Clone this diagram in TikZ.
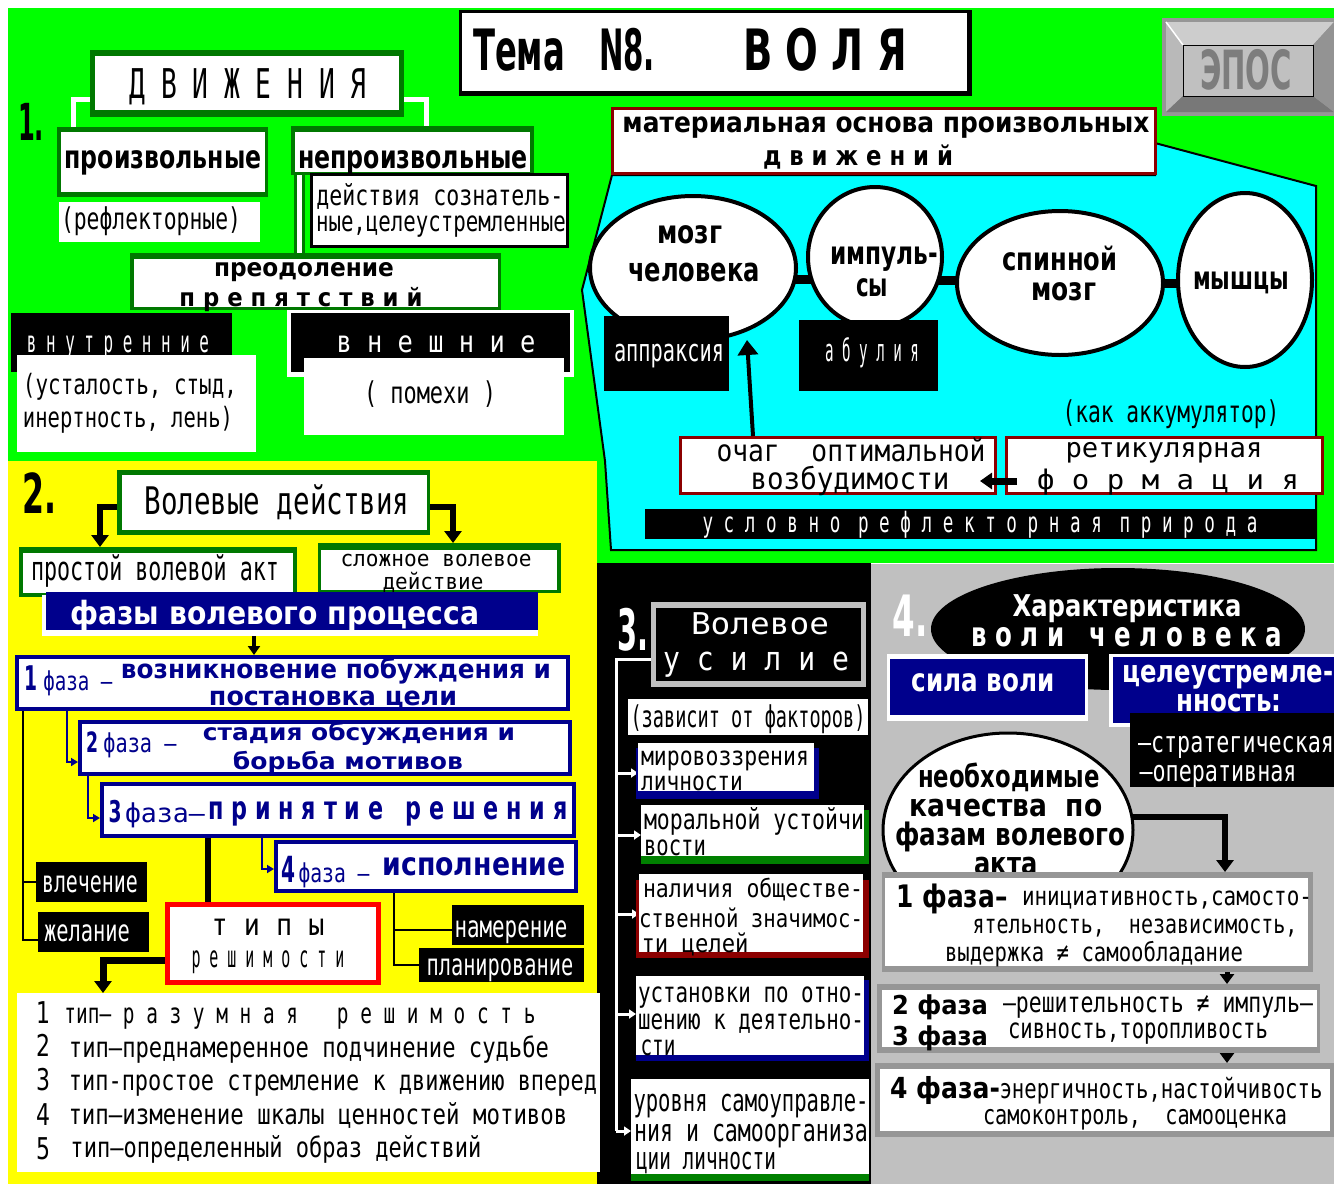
\documentclass[tikz,border=0pt]{standalone}
\usepackage{fontspec}
\setmainfont{DejaVu Sans}
\setmonofont{DejaVu Sans Mono}
\usetikzlibrary{shapes.geometric,arrows.meta,calc}
\pgfdeclarelayer{bg}\pgfdeclarelayer{conn}\pgfsetlayers{bg,conn,main}
\definecolor{cGreen}{RGB}{0,255,0}
\definecolor{cYellow}{RGB}{255,255,0}
\definecolor{cCyan}{RGB}{0,255,255}
\definecolor{cNavy}{RGB}{0,0,140}
\definecolor{cDkGreen}{RGB}{0,120,0}
\definecolor{cShGreen}{RGB}{0,128,0}
\definecolor{cDkRed}{RGB}{140,0,0}
\definecolor{cGray}{RGB}{192,192,192}
\definecolor{cFrame}{RGB}{150,150,150}
\definecolor{cRed}{RGB}{255,0,0}
\definecolor{cBtnA}{RGB}{205,205,205}
\definecolor{cBtnB}{RGB}{120,120,120}
\definecolor{cBtnT}{RGB}{125,125,125}
\newcommand\fitR[3]{\resizebox{#2pt}{\height}{\fontsize{#1}{#1}\selectfont #3}}
\newcommand\fitB[3]{\fitR{#1}{#2}{\bfseries #3}}
\newcommand\fitM[3]{\fitR{#1}{#2}{\ttfamily #3}}
\newcommand\rb[6]{\node[rbox,#2,minimum width={(#5)-(#3)},minimum height={(#6)-(#4)}] (#1) at ({((#3)+(#5))/2},{((#4)+(#6))/2}) {};}
\begin{document}
\begin{tikzpicture}[x=1pt,y=-1pt,
  rbox/.style={rectangle,inner sep=0pt,outer sep=0pt,draw=none},
  txt/.style={anchor=base,inner sep=0pt,outer sep=0pt},
  ell/.style={ellipse,draw=black,line width=4pt,fill=white,inner sep=0pt,outer sep=0pt},
  wline/.style={white,line width=5pt},
  thickarr/.style={black,line width=6pt,-{Triangle[width=17pt,length=12pt]}},
  medarr/.style={black,line width=5pt,-{Triangle[width=14pt,length=10pt]}},
  narr/.style={cNavy,line width=2pt,-{Triangle[width=8pt,length=7pt]}},
  bline/.style={black,line width=2pt},
  warr/.style={white,line width=3pt,-{Triangle[width=9pt,length=7pt]}},
  wl/.style={white,line width=3pt}]
\useasboundingbox (0,0) rectangle (1334,1184);
\begin{pgfonlayer}{bg}
\fill[white] (0,0) rectangle (1334,1184);
\fill[cGreen] (8,8) rectangle (1334,563);
\fill[cYellow] (8,461) rectangle (597,1184);
\fill[black] (597,563) rectangle (871,1184);
\fill[cGray] (871,564) rectangle (1334,1184);
\filldraw[fill=cCyan,draw=black,line width=2pt] (612,175) -- (582,290) -- (605,461) -- (611,550) -- (1316,550) -- (1316,186) -- (1155,143) -- (1155,175) -- cycle;
\end{pgfonlayer}

% ---------------- section 1 -----------------
\node[txt] (n1) at (31,140) {\fitB{51}{26}{1.}};
\rb{dvo}{fill=cDkGreen}{90}{50}{404}{117}
\rb{dv}{fill=white}{95}{56}{399}{110}
\node[txt] (tdv) at (248,98) {\fitM{41}{237}{Д В И Ж Е Н И Я}};
\rb{pro}{fill=cDkGreen}{57}{127}{268}{197}
\rb{pr}{fill=white}{61}{132}{265}{192}
\node[txt] (tpr) at (163,168) {\fitB{32}{197}{произвольные}};
\rb{refl}{fill=white}{59}{202}{260}{242}
\node[txt] (trefl) at (151,229) {\fitM{30}{180}{(рефлекторные)}};
\rb{npo}{fill=cDkGreen}{291}{126}{534}{175}
\rb{np}{fill=white}{295}{132}{530}{172}
\node[txt] (tnp) at (413,168) {\fitB{32}{230}{непроизвольные}};
\rb{deo}{fill=black}{310}{173}{569}{248}
\rb{de}{fill=white}{313}{176}{566}{245}
\node[txt] (tde1) at (440,205) {\fitM{28}{247}{действия сознатель-}};
\node[txt] (tde2) at (441,231) {\fitM{28}{250}{ные,целеустремленные}};
\rb{preo}{fill=cDkGreen}{130}{253}{501}{310}
\rb{pre}{fill=white}{134}{259}{498}{307}
\node[txt] (tpre1) at (304,276) {\fitB{25}{180}{преодоление}};
\node[txt] (tpre2) at (301,306) {\fitB{25}{243}{п р е п я т с т в и й}};
\rb{vn}{fill=black}{11}{313}{232}{372}
\node[txt,text=white] (tvn) at (118,352) {\fitM{30}{182}{в н у т р е н н и е}};
\rb{vnw}{fill=white}{17}{355}{256}{452}
\node[txt] (tvn1) at (130,394) {\fitM{28}{214}{(усталость, стыд,}};
\node[txt] (tvn2) at (128,427) {\fitM{28}{210}{инертность, лень)}};
\rb{vsf}{fill=white}{287}{310}{574}{377}
\rb{vs}{fill=black}{291}{313}{570}{372}
\node[txt,text=white] (tvs) at (436,352) {\fitM{30}{199}{в н е ш н и е}};
\rb{vsw}{fill=white}{304}{358}{564}{435}
\node[txt] (tvsw) at (430,403) {\fitM{30}{132}{( помехи )}};

\begin{pgfonlayer}{conn}
\coordinate (c1) at (73,99); \coordinate (c2) at (426,99); \coordinate (c3) at (299,0);
\draw[wline] (dvo.west |- c1) -- (c1) -- (c1 |- pro.north);
\draw[wline] (dvo.east |- c2) -- (c2) -- (c2 |- npo.north);
\draw[cDkGreen,line width=11pt] (c3 |- npo.south) -- (c3 |- preo.north);
\draw[white,line width=5pt] (c3 |- npo.south) -- (c3 |- preo.north);
\end{pgfonlayer}

% title
\rb{tto}{fill=black}{459}{10}{972}{96}
\rb{tt}{fill=white}{462}{13}{967}{91}
\node[txt] (tt1) at (519,70) {\fitB{57}{92}{Тема}};
\node[txt] (tt2) at (627,70) {\fitB{57}{56}{N8.}};
\node[txt] (tt3) at (825,70) {\fitB{57}{164}{В О Л Я}};

% button
\rb{epo}{fill=cFrame}{1162}{18}{1334}{116}
\fill[cBtnA] (1166,22) -- (1334,22) -- (1313,45) -- (1183,45) -- cycle;
\fill[cBtnA!90!black] (1166,22) -- (1183,45) -- (1183,96) -- (1166,112) -- cycle;
\fill[cBtnB] (1166,112) -- (1183,96) -- (1313,96) -- (1334,112) -- cycle;
\fill[cBtnB!80!white] (1334,22) -- (1313,45) -- (1313,96) -- (1334,112) -- cycle;
\draw[white,line width=1.5pt] (1166,22) -- (1183,45);
\rb{ep}{fill=cGray,draw=black,line width=1pt}{1183}{45}{1313}{96}
\node[txt,text=cBtnT] (tep) at (1246,89) {\fitB{54}{92}{ЭПОС}};

% material basis
\rb{mato}{fill=cDkRed}{611}{107}{1157}{175}
\rb{mat}{fill=white}{614}{110}{1154}{172}
\node[txt] (tmat1) at (886,132) {\fitB{28}{527}{материальная основа произвольных}};
\node[txt] (tmat2) at (858,165) {\fitB{27}{190}{д в и ж е н и й}};

\node[ell,minimum width=206pt,minimum height=144pt] (brain) at (693,268) {};
\node[ell,minimum width=134pt,minimum height=140pt] (imp) at (875,257) {};
\node[ell,minimum width=206pt,minimum height=144pt] (spine) at (1060,283) {};
\node[ell,minimum width=134pt,minimum height=174pt] (musc) at (1245,280) {};
\node[txt] (tbr1) at (690,243) {\fitB{32}{65}{мозг}};
\node[txt] (tbr2) at (694,281) {\fitB{33}{132}{человека}};
\node[txt] (tim1) at (884,264) {\fitB{32}{108}{импуль-}};
\node[txt] (tim2) at (872,296) {\fitB{32}{32}{сы}};
\node[txt] (tsp1) at (1060,270) {\fitB{32}{115}{спинной}};
\node[txt] (tsp2) at (1064,300) {\fitB{32}{65}{мозг}};
\node[txt] (tmu) at (1241,289) {\fitB{32}{96}{мышцы}};
\begin{pgfonlayer}{conn}
\coordinate (k1) at (0,279); \coordinate (k2) at (0,280); \coordinate (k3) at (0,283);
\draw[line width=9pt] (brain.center |- k1) -- (imp.center |- k1);
\draw[line width=9pt] (imp.center |- k2) -- (spine.center |- k2);
\draw[line width=9pt] (spine.center |- k3) -- (musc.center |- k3);
\end{pgfonlayer}
\rb{apr}{fill=black}{604}{316}{729}{391}
\node[txt,text=white] (tapr) at (669,361) {\fitM{31}{110}{аппраксия}};
\rb{abu}{fill=black}{799}{320}{938}{391}
\node[txt,text=white] (tabu) at (872,361) {\fitM{31}{94}{а б у л и я}};
\node[txt] (tak) at (1171,422) {\fitM{30}{217}{(как аккумулятор)}};
\rb{ocho}{fill=cDkRed}{679}{436}{997}{495}
\rb{och}{fill=white}{682}{439}{994}{492}
\node[txt] (toc1) at (851,461) {\fitM{30}{269}{очаг\ \ оптимальной}};
\node[txt] (toc2) at (850,489) {\fitM{30}{199}{возбудимости}};
\rb{reto}{fill=cDkRed}{1005}{436}{1324}{495}
\rb{ret}{fill=white}{1008}{439}{1321}{492}
\node[txt] (tre1) at (1164,457) {\fitM{27}{197}{ретикулярная}};
\node[txt] (tre2) at (1168,489) {\fitM{27}{262}{ф о р м а ц и я}};
\rb{usl}{fill=black}{645}{509}{1315}{539}
\node[txt,text=white] (tusl) at (980,532) {\fitM{28}{555}{у с л о в н о\quad р е ф л е к т о р н а я\quad п р и р о д а}};
\coordinate (a1) at (753,0); \coordinate (tipA) at (747,340);
\draw[line width=4pt,-{Triangle[width=20pt,length=15pt]}] (a1 |- ocho.north) -- (tipA);
\coordinate (a2) at (1017,481); \coordinate (a3) at (980,481);
\draw[line width=7pt,-{Triangle[width=16pt,length=12pt]}] (a2) -- (a3);

% ---------------- section 2 -----------------
\node[txt] (n2) at (40,513) {\fitB{55}{34}{2.}};
\rb{vdo}{fill=cDkGreen}{117}{470}{430}{535}
\rb{vd}{fill=white}{122}{475}{427}{530}
\node[txt] (tvd) at (277,514) {\fitM{38}{265}{Волевые действия}};
\rb{prosto}{fill=cDkGreen}{19}{547}{297}{597}
\rb{prost}{fill=white}{23}{553}{293}{593}
\node[txt] (tprost) at (155,580) {\fitM{33}{248}{простой волевой акт}};
\rb{slozho}{fill=cDkGreen}{318}{543}{561}{593}
\rb{slozh}{fill=white}{321}{550}{557}{590}
\node[txt] (tsl1) at (436,566) {\fitM{22}{191}{сложное волевое}};
\node[txt] (tsl2) at (433,589) {\fitM{22}{101}{действие}};
\rb{fazyw}{fill=white}{42}{595}{538}{636}
\rb{fazy}{fill=cNavy}{46}{592}{538}{630}
\node[txt,text=white] (tfazy) at (275,624) {\fitB{32}{409}{фазы волевого процесса}};

\rb{f1o}{fill=cNavy}{15}{655}{570}{711}
\rb{f1}{fill=white}{19}{659}{566}{707}
\node[txt,text=cNavy] (tf1n) at (31,690) {\fitB{34}{13}{1}};
\node[txt,text=cNavy] (tf1f) at (78,690) {\fitM{26}{69}{фаза –}};
\node[txt,text=cNavy] (tf1a) at (336,678) {\fitB{26}{430}{возникновение побуждения и}};
\node[txt,text=cNavy] (tf1b) at (333,705) {\fitB{26}{248}{постановка цели}};
\rb{f2o}{fill=cNavy}{78}{720}{572}{776}
\rb{f2}{fill=white}{82}{724}{568}{772}
\node[txt,text=cNavy] (tf2n) at (92,752) {\fitB{28}{12}{2}};
\node[txt,text=cNavy] (tf2f) at (140,752) {\fitM{26}{73}{фаза –}};
\node[txt,text=cNavy] (tf2a) at (359,740) {\fitB{23}{312}{стадия обсуждения и}};
\node[txt,text=cNavy] (tf2b) at (348,769) {\fitB{23}{230}{борьба мотивов}};
\rb{f3o}{fill=cNavy}{100}{782}{576}{838}
\rb{f3}{fill=white}{104}{786}{572}{834}
\node[txt,text=cNavy] (tf3n) at (115,822) {\fitB{30}{13}{3}};
\node[txt,text=cNavy] (tf3f) at (165,822) {\fitM{26}{80}{фаза–}};
\node[txt,text=cNavy] (tf3a) at (388,819) {\fitB{32}{359}{п р и н я т и е\quad р е ш е н и я}};
\rb{f4o}{fill=cNavy}{274}{840}{578}{893}
\rb{f4}{fill=white}{278}{844}{574}{889}
\node[txt,text=cNavy] (tf4n) at (288,882) {\fitB{36}{14}{4}};
\node[txt,text=cNavy] (tf4f) at (334,882) {\fitM{26}{71}{фаза –}};
\node[txt,text=cNavy] (tf4a) at (474,875) {\fitB{32}{183}{исполнение}};

\rb{vlech}{fill=black}{36}{862}{147}{902}
\node[txt,text=white] (tvlech) at (90,892) {\fitM{30}{96}{влечение}};
\rb{zhel}{fill=black}{38}{912}{149}{952}
\node[txt,text=white] (tzhel) at (87,941) {\fitM{30}{86}{желание}};
\rb{tipo}{fill=cRed}{165}{902}{381}{985}
\rb{tip}{fill=white}{170}{907}{376}{980}
\node[txt] (ttip1) at (268,935) {\fitM{30}{113}{т и п ы}};
\node[txt] (ttip2) at (268,967) {\fitM{30}{153}{р е ш и м о с т и}};
\rb{nam}{fill=black}{452}{905}{584}{945}
\node[txt,text=white] (tnam) at (511,937) {\fitM{30}{113}{намерение}};
\rb{plan}{fill=black}{419}{948}{584}{982}
\node[txt,text=white] (tplan) at (500,975) {\fitM{30}{147}{планирование}};

\rb{list}{fill=white}{17}{993}{600}{1172}
\node[txt] (l1n) at (43,1023) {\fitR{30}{14}{1}};
\node[txt] (l1) at (300,1023) {\fitM{28}{471}{тип– р а з у м н а я\quad\quad р е ш и м о с т ь}};
\node[txt] (l2n) at (43,1056) {\fitR{30}{14}{2}};
\node[txt] (l2) at (309,1057) {\fitM{28}{480}{тип–преднамеренное подчинение судьбе}};
\node[txt] (l3n) at (43,1090) {\fitR{30}{14}{3}};
\node[txt] (l3) at (333,1090) {\fitM{28}{528}{тип-простое стремление к движению вперед}};
\node[txt] (l4n) at (43,1125) {\fitR{30}{14}{4}};
\node[txt] (l4) at (318,1124) {\fitM{28}{499}{тип–изменение шкалы ценностей мотивов}};
\node[txt] (l5n) at (43,1159) {\fitR{30}{14}{5}};
\node[txt] (l5) at (276,1157) {\fitM{28}{411}{тип–определенный образ действий}};

\begin{pgfonlayer}{conn}
\coordinate (v1) at (100,507); \coordinate (v2) at (453,507);
\draw[thickarr] (vdo.west |- v1) -- (v1) -- (v1 |- prosto.north);
\draw[thickarr] (vdo.east |- v2) -- (v2) -- (v2 |- slozho.north);
\coordinate (v3) at (254,0);
\draw[black,line width=4pt,-{Triangle[width=12pt,length=9pt]}] (v3 |- fazyw.south) -- (v3 |- f1o.north);
\coordinate (v4) at (67,762); \coordinate (v5) at (88,818); \coordinate (v6) at (262,869);
\draw[narr] (v4 |- f1o.south) -- (v4) -- (v4 -| f2o.west);
\draw[narr] (v5 |- f2o.south) -- (v5) -- (v5 -| f3o.west);
\draw[narr] (v6 |- f3o.south) -- (v6) -- (v6 -| f4o.west);
\coordinate (v7) at (23,940); \coordinate (v8) at (23,882);
\draw[bline] (v7 |- f1o.south) -- (v7) -- (v7 -| zhel.west);
\draw[bline] (v8) -- (v8 -| vlech.west);
\coordinate (v9) at (208,0);
\draw[black,line width=6pt] (v9 |- f3o.south) -- (v9 |- tipo.north);
\coordinate (v10) at (103,960);
\draw[thickarr,line width=7pt] (tipo.west |- v10) -- (v10) -- (v10 |- list.north);
\coordinate (v11) at (394,965); \coordinate (v12) at (394,930);
\draw[bline] (v11 |- f4o.south) -- (v11) -- (v11 -| plan.west);
\draw[bline] (v12) -- (v12 -| nam.west);
\end{pgfonlayer}

% ---------------- section 3 -----------------
\node[txt,text=white] (n3) at (633,650) {\fitB{57}{31}{3.}};
\rb{vuo}{fill=cGray}{651}{602}{866}{687}
\rb{vu}{fill=black}{656}{608}{861}{681}
\node[txt,text=white] (tvu1) at (760,634) {\fitM{30}{138}{Волевое}};
\node[txt,text=white] (tvu2) at (756,670) {\fitM{33}{186}{у с и л и е}};
\rb{zav}{fill=white}{628}{699}{868}{735}
\node[txt] (tzav) at (748,727) {\fitM{30}{235}{(зависит от факторов)}};
\rb{mirs}{fill=cNavy}{636}{748}{819}{799}
\rb{mir}{fill=white}{638}{743}{814}{791}
\node[txt] (tmir1) at (725,765) {\fitM{26}{168}{мировоззрения}};
\node[txt] (tmir2) at (692,790) {\fitM{26}{102}{личности}};
\rb{mors}{fill=cShGreen}{641}{810}{869}{864}
\rb{mor}{fill=white}{641}{805}{864}{856}
\node[txt] (tmor1) at (754,829) {\fitM{28}{220}{моральной устойчи}};
\node[txt] (tmor2) at (675,855) {\fitM{28}{62}{вости}};
\rb{nals}{fill=cDkRed}{636}{880}{869}{958}
\rb{nal}{fill=white}{639}{874}{863}{952}
\node[txt] (tnal1) at (753,897) {\fitM{25}{220}{наличия обществе-}};
\node[txt] (tnal2) at (751,927) {\fitM{25}{224}{ственной значимос-}};
\node[txt] (tnal3) at (695,952) {\fitM{25}{107}{ти целей}};
\rb{usts}{fill=cNavy}{636}{980}{869}{1061}
\rb{ust}{fill=white}{636}{976}{864}{1055}
\node[txt] (tust1) at (751,1002) {\fitM{28}{226}{установки по отно-}};
\node[txt] (tust2) at (751,1029) {\fitM{28}{226}{шению к деятельно-}};
\node[txt] (tust3) at (658,1055) {\fitM{28}{35}{сти}};
\rb{urs}{fill=cShGreen}{631}{1085}{869}{1181}
\rb{ur}{fill=white}{631}{1079}{869}{1174}
\node[txt] (tur1) at (751,1111) {\fitM{31}{235}{уровня самоуправле-}};
\node[txt] (tur2) at (751,1141) {\fitM{31}{234}{ния и самоорганиза}};
\node[txt] (tur3) at (706,1169) {\fitM{31}{140}{ции личности}};
\begin{pgfonlayer}{conn}
\coordinate (w0) at (616,659); \coordinate (w5) at (616,1131);
\coordinate (w1) at (616,773); \coordinate (w2) at (616,835);
\coordinate (w3) at (616,914); \coordinate (w4) at (616,1014);
\draw[wl] (vuo.west |- w0) -- (w0) -- (w5);
\draw[warr] (w1) -- (w1 -| mir.west);
\draw[warr] (w2) -- (w2 -| mor.west);
\draw[warr] (w3) -- (w3 -| nal.west);
\draw[warr] (w4) -- (w4 -| ust.west);
\draw[warr] (w5) -- (w5 -| ur.west);
\end{pgfonlayer}

% ---------------- section 4 -----------------
\node[txt,text=white] (n4) at (910,636) {\fitB{57}{35}{4.}};
\node[ellipse,fill=black,inner sep=0pt,minimum width=374pt,minimum height=122pt] (charE) at (1118,629) {};
\node[txt,text=white] (tch1) at (1127,616) {\fitB{30}{229}{Характеристика}};
\node[txt,text=white] (tch2) at (1127,646) {\fitB{34}{311}{в о л и\quad ч е л о в е к а}};
\rb{silw}{fill=white}{887}{654}{1088}{721}
\rb{sil}{fill=cNavy}{890}{659}{1085}{715}
\node[txt,text=white] (tsil) at (983,691) {\fitB{32}{143}{сила воли}};
\rb{celw}{fill=white}{1109}{654}{1334}{727}
\rb{cel}{fill=cNavy}{1113}{657}{1334}{723}
\node[txt,text=white] (tcel1) at (1228,682) {\fitB{31}{211}{целеустремле-}};
\node[txt,text=white] (tcel2) at (1229,711) {\fitB{31}{105}{нность:}};
\rb{str}{fill=black}{1130}{713}{1334}{787}
\node[txt,text=white] (tstr1) at (1236,752) {\fitM{29}{196}{–стратегическая}};
\node[txt,text=white] (tstr2) at (1218,781) {\fitM{29}{157}{–оперативная}};
\node[ellipse,draw=black,line width=3pt,fill=white,inner sep=0pt,minimum width=250pt,minimum height=194pt] (neob) at (1008,830) {};
\node[txt] (tne1) at (1009,787) {\fitB{31}{182}{необходимые}};
\node[txt] (tne2) at (1006,816) {\fitB{31}{193}{качества\ \ по}};
\node[txt] (tne3) at (1010,845) {\fitB{31}{230}{фазам волевого}};
\node[txt] (tne4) at (1006,874) {\fitB{31}{63}{акта}};
\rb{p1o}{fill=cFrame}{882}{872}{1313}{972}
\rb{p1}{fill=white}{885}{878}{1308}{966}
\node[txt] (tp1a) at (952,907) {\fitB{31}{111}{1 фаза–}};
\node[txt] (tp1b) at (1167,905) {\fitM{26}{290}{инициативность,самосто-}};
\node[txt] (tp1c) at (1135,933) {\fitM{26}{325}{ятельность,\ \ независимость,}};
\node[txt] (tp1d) at (1094,961) {\fitM{26}{298}{выдержка ≠ самообладание}};
\rb{p23o}{fill=cFrame}{877}{984}{1320}{1053}
\rb{p23}{fill=white}{882}{990}{1317}{1047}
\node[txt] (tp2a) at (940,1014) {\fitB{26}{96}{2 фаза}};
\node[txt] (tp3a) at (940,1045) {\fitB{26}{96}{3 фаза}};
\node[txt] (tp2b) at (1158,1012) {\fitM{28}{310}{–решительность ≠ импуль–}};
\node[txt] (tp2c) at (1138,1038) {\fitM{28}{260}{сивность,торопливость}};
\rb{p4o}{fill=cFrame}{875}{1063}{1334}{1137}
\rb{p4}{fill=white}{880}{1069}{1330}{1131}
\node[txt] (tp4a) at (945,1098) {\fitB{29}{110}{4 фаза-}};
\node[txt] (tp4b) at (1161,1098) {\fitM{27}{323}{энергичность,настойчивость}};
\node[txt] (tp4c) at (1135,1124) {\fitM{27}{304}{самоконтроль,\ \ самооценка}};
\begin{pgfonlayer}{conn}
\coordinate (g1) at (1225,817); \coordinate (g2) at (1227,0);
\draw[thickarr] (neob.center |- g1) -- (g1) -- (g1 |- p1o.north);
\draw[medarr] (g2 |- p1o.south) -- (g2 |- p23o.north);
\draw[medarr] (g2 |- p23o.south) -- (g2 |- p4o.north);
\end{pgfonlayer}
\end{tikzpicture}
\end{document}
